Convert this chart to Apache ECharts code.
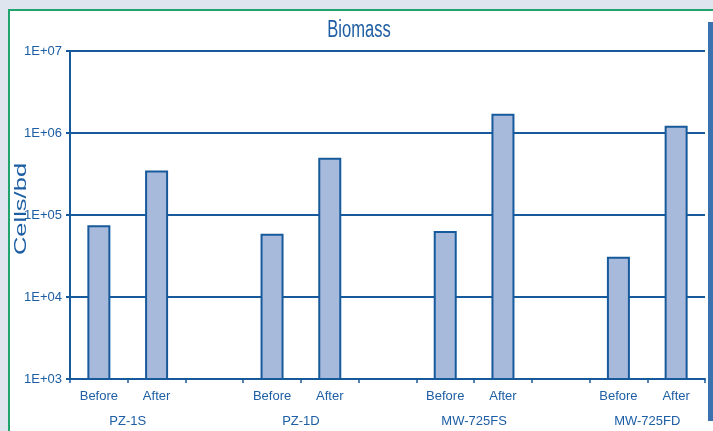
<!DOCTYPE html>
<html>
<head>
<meta charset="utf-8">
<script src="https://cdn.jsdelivr.net/npm/echarts@6/dist/echarts.min.js"></script>
<style>
  html, body { margin: 0; padding: 0; background: #dfe5ef; }
  #chart { width: 713px; height: 431px; }
</style>
</head>
<body>
<div id="chart"></div>
<script>
// Sampling wells and the two sampling rounds
const groups = ['PZ-1S', 'PZ-1D', 'MW-725FS', 'MW-725FD'];
const phases = ['Before', 'After'];

// Biomass in cells per bead
const beforeValues = [7.5e4, 5.9e4, 6.4e4, 3.1e4];
const afterValues = [3.5e5, 5.0e5, 1.72e6, 1.23e6];

// Decade labels for the log axis, from 1E+03 up to 1E+07
const yTickLabels = ['1E+03', '1E+04', '1E+05', '1E+06', '1E+07'];

const navy = '#175a9c';
const textBlue = '#1d5ea4';
const barFill = '#a8badb';
const labelFont = '"Liberation Sans", Arial, sans-serif';

// One slot per bar, with an empty slot between wells
const categories = [];
const barData = [];
groups.forEach((g, i) => {
  if (i > 0) { categories.push(''); barData.push(null); }
  categories.push(phases[0]); barData.push(beforeValues[i]);
  categories.push(phases[1]); barData.push(afterValues[i]);
});

// Well names sit on the boundary between each Before/After pair
const groupAxisData = new Array(categories.length + 1).fill('');
groups.forEach((g, i) => { groupAxisData[1 + 3 * i] = g; });

const chart = echarts.init(document.getElementById('chart'), null, { renderer: 'canvas' });

chart.setOption({
  animation: false,
  backgroundColor: '#dfe5ef',
  graphic: [
    {
      type: 'rect', z: -10, silent: true,
      shape: { x: 9, y: 10, width: 900, height: 600 },
      style: { fill: '#ffffff', stroke: '#1ea46c', lineWidth: 2 }
    },
    {
      type: 'rect', z: -5, silent: true,
      shape: { x: 708, y: 22, width: 6, height: 399 },
      style: { fill: '#3a72b0' }
    },
    {
      // chart title, set in a condensed cut
      type: 'text', silent: true,
      x: 359, y: 31,
      scaleX: 0.72,
      style: {
        text: 'Biomass',
        fill: textBlue,
        font: '23px ' + labelFont,
        align: 'center',
        verticalAlign: 'middle'
      }
    },
    {
      // value axis title, reading bottom to top
      type: 'text', silent: true,
      x: 21, y: 209,
      rotation: Math.PI / 2,
      scaleX: 1.5,
      style: {
        text: 'Cells/bd',
        fill: textBlue,
        font: '17px ' + labelFont,
        align: 'center',
        verticalAlign: 'middle'
      }
    }
  ],
  grid: { left: 70, right: 8, top: 51, height: 328, containLabel: false },
  xAxis: [
    {
      type: 'category',
      data: categories,
      position: 'bottom',
      axisLine: { show: true, lineStyle: { color: navy, width: 2 } },
      axisTick: { show: true, length: 4, lineStyle: { color: navy, width: 1.5 } },
      axisLabel: { interval: 0, margin: 11, color: textBlue, fontFamily: labelFont, fontSize: 13 },
      splitLine: { show: false }
    },
    {
      type: 'category',
      data: groupAxisData,
      boundaryGap: false,
      position: 'bottom',
      axisLine: { show: false },
      axisTick: { show: false },
      axisLabel: { interval: 0, margin: 36, color: textBlue, fontFamily: labelFont, fontSize: 13 },
      splitLine: { show: false }
    }
  ],
  yAxis: {
    type: 'log',
    logBase: 10,
    min: 1e3,
    max: 1e7,
    axisLine: { show: true, lineStyle: { color: navy, width: 2 } },
    axisTick: { show: true, length: 4, lineStyle: { color: navy, width: 2 } },
    axisLabel: {
      margin: 8,
      color: textBlue,
      fontFamily: labelFont,
      fontSize: 13,
      formatter: (v) => yTickLabels[Math.round(Math.log10(v)) - 3]
    },
    splitLine: { show: true, lineStyle: { color: navy, width: 2 } }
  },
  series: [
    {
      type: 'bar',
      xAxisIndex: 0,
      data: barData,
      barWidth: 23,
      itemStyle: { color: barFill, borderColor: navy, borderWidth: 2 }
    }
  ]
});
</script>
</body>
</html>
